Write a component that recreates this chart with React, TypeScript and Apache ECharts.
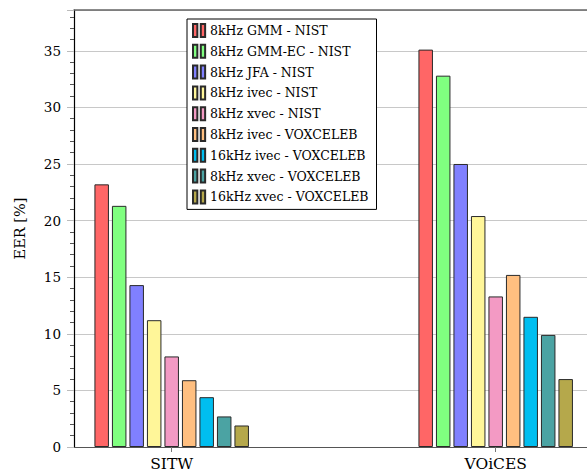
import React, { useEffect, useRef } from "react";
import * as echarts from "echarts";

const categories = ["SITW", "VOiCES"];
const seriesNames = [
  "8kHz GMM - NIST",
  "8kHz GMM-EC - NIST",
  "8kHz JFA - NIST",
  "8kHz ivec - NIST",
  "8kHz xvec - NIST",
  "8kHz ivec - VOXCELEB",
  "16kHz ivec - VOXCELEB",
  "8kHz xvec - VOXCELEB",
  "16kHz xvec - VOXCELEB",
];
const sitwValues = [23.2, 21.3, 14.3, 11.2, 8.0, 5.9, 4.4, 2.7, 1.9];
const voicesValues = [35.1, 32.8, 25.0, 20.4, 13.3, 15.2, 11.5, 9.9, 6.0];
const colors = [
  "#FF6666",
  "#80FF80",
  "#8080FF",
  "#FFF699",
  "#F39AC4",
  "#FFBF80",
  "#00BEF0",
  "#4BA3A3",
  "#B5A84B",
];
const yTicks = [0, 5, 10, 15, 20, 25, 30, 35];

const FONT = "DejaVu Serif";

export default function App() {
  const ref = useRef<HTMLDivElement>(null);
  useEffect(() => {
    if (!ref.current) return;
    const chart = echarts.init(ref.current, null, { renderer: "svg" });
    const xMin = -0.3015;
    const xMax = 1.2818;
    const option: any = {
      animation: false,
      backgroundColor: "#ffffff",
      textStyle: { fontFamily: FONT },
      grid: { left: 74, right: 0, top: 10, bottom: 29, containLabel: false },
      legend: {
        orient: "vertical",
        left: 187,
        top: 19,
        padding: [4, 8, 5, 5],
        backgroundColor: "#ffffff",
        borderColor: "#000000",
        borderWidth: 1,
        borderRadius: 0,
        itemWidth: 14,
        itemHeight: 13,
        itemGap: 5.8,
        icon: "path://M0,0h5v15h-5z M9,0h5v15h-5z",
        textStyle: { fontFamily: FONT, fontSize: 12.5, color: "#000", padding: [0, 0, 0, -1] },
        data: seriesNames,
      },
      xAxis: [
        {
          type: "value",
          min: xMin,
          max: xMax,
          position: "bottom",
          axisLine: { show: true, onZero: false, lineStyle: { color: "#555", width: 1 } },
          axisTick: {
            show: true,
            customValues: [0, 1],
            length: 5,
            inside: false,
            lineStyle: { color: "#777", width: 1 },
          },
          axisLabel: {
            customValues: [0, 1],
            formatter: (v: number) => categories[Math.round(v)] ?? "",
            fontFamily: FONT,
            fontSize: 15.5,
            color: "#000",
            margin: 9,
          },
          splitLine: { show: false },
        },
        {
          type: "value",
          min: xMin,
          max: xMax,
          position: "top",
          axisLine: { show: true, onZero: false, lineStyle: { color: "#666", width: 1.5 } },
          axisTick: { show: false },
          axisLabel: { show: false },
          splitLine: { show: false },
        },
      ],
      yAxis: {
        type: "value",
        min: 0,
        max: 38.6,
        interval: 5,
        name: "EER [%]",
        nameLocation: "middle",
        nameGap: 47,
        nameTextStyle: { fontFamily: FONT, fontSize: 14.5, color: "#000" },
        axisLine: { show: true, onZero: false, lineStyle: { color: "#000", width: 1.2 } },
        axisTick: { show: true, length: 7, inside: false, lineStyle: { color: "#bbb", width: 1 } },
        minorTick: { show: true, splitNumber: 5, length: 4, lineStyle: { color: "#555", width: 1 } },
        axisLabel: {
          fontFamily: FONT,
          fontSize: 13.5,
          color: "#000",
          margin: 13,
          showMaxLabel: false,
          formatter: (v: number) => (yTicks.includes(v) ? String(v) : ""),
        },
        splitLine: { show: true, lineStyle: { color: "#c8c8c8", width: 1 } },
      },
      series: seriesNames.map((name, i) => ({
        name,
        type: "bar",
        xAxisIndex: 0,
        barWidth: 14.5,
        barGap: "20.7%",
        itemStyle: { color: colors[i], borderColor: "#2a2a2a", borderWidth: 1 },
        data: [
          [0, sitwValues[i]],
          [1, voicesValues[i]],
        ],
      })),
    };
    chart.setOption(option);
    return () => chart.dispose();
  }, []);
  return (
    <div
      ref={ref}
      style={{ position: "fixed", left: 0, top: 0, width: 587, height: 476, background: "#fff" }}
    />
  );
}
